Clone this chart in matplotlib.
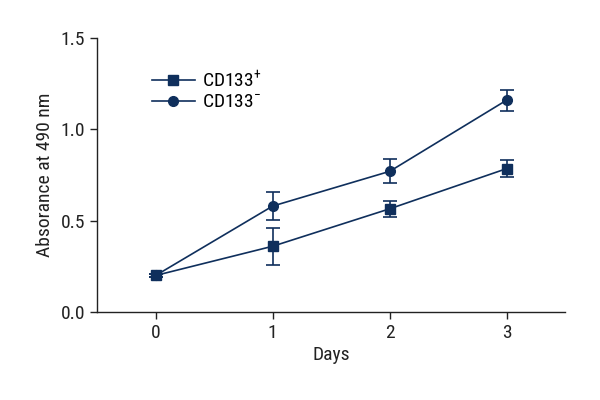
import numpy as np
import matplotlib.pyplot as plt

days = [0, 1, 2, 3]
pos_mean = [0.20, 0.36, 0.565, 0.785]
pos_err = [0.01, 0.10, 0.045, 0.045]
neg_mean = [0.20, 0.58, 0.77, 1.16]
neg_err = [0.01, 0.077, 0.065, 0.057]

col = '#0f2f5c'
plt.rcParams['font.family'] = ['Roboto Condensed', 'DejaVu Sans']
plt.rcParams['font.stretch'] = 'condensed'
plt.rcParams['mathtext.fontset'] = 'custom'
plt.rcParams['mathtext.rm'] = 'Roboto Condensed'

fig = plt.figure(figsize=(6, 4), dpi=100)
ax = fig.add_axes([0.162, 0.22, 0.78, 0.685])

ax.errorbar(days, pos_mean, yerr=pos_err, color=col, marker='s', ms=7.5, lw=1.2,
            capsize=5, elinewidth=1.2, capthick=1.2, label='CD133$^{+}$')
ax.errorbar(days, neg_mean, yerr=neg_err, color=col, marker='o', ms=7, lw=1.2,
            capsize=5, elinewidth=1.2, capthick=1.2, label='CD133$^{-}$')

ax.set_xlim(-0.5, 3.5)
ax.set_ylim(0, 1.5)
ax.set_xticks(days)
ax.set_yticks([0.0, 0.5, 1.0, 1.5])
ax.set_yticklabels(['0.0', '0.5', '1.0', '1.5'])
ax.spines['top'].set_visible(False)
ax.spines['right'].set_visible(False)
for s in ['left', 'bottom']:
    ax.spines[s].set_color('#222222')
    ax.spines[s].set_linewidth(1.0)
ax.tick_params(direction='out', length=5, width=1, labelsize=14, colors='#222222')
ax.set_xlabel('Days', fontsize=14, color='#222222', labelpad=3)
ax.set_ylabel('Absorance at 490 nm', fontsize=14, color='#222222', labelpad=5)

handles, labels = ax.get_legend_handles_labels()
handles = [h[0] for h in handles]
ax.legend(handles, labels, loc='upper left', bbox_to_anchor=(0.1, 0.915), frameon=False,
          fontsize=14, handlelength=2.2, handletextpad=0.4, labelspacing=0.15,
          borderaxespad=0)

fig.savefig('out.png', dpi=100)
